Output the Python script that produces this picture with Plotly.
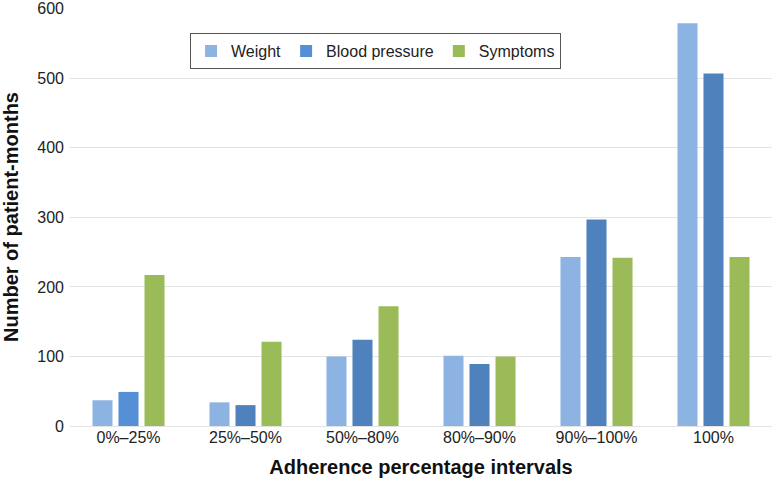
import plotly.graph_objects as go

categories = ["0%\u201325%", "25%\u201350%", "50%\u201380%", "80%\u201390%", "90%\u2013100%", "100%"]
weight = [37, 34, 100, 101, 243, 579]
blood_pressure = [49, 30, 124, 89, 297, 507]
symptoms = [217, 121, 172, 100, 242, 243]
y_ticks = [0, 100, 200, 300, 400, 500, 600]

bp_colors = ["#5590d6"] + ["#4f81bd"] * 5

fig = go.Figure()
fig.add_trace(go.Bar(name="Weight", x=categories, y=weight, marker=dict(color="#8db3e2", line=dict(width=0))))
fig.add_trace(go.Bar(name="Blood pressure", x=categories, y=blood_pressure, marker=dict(color=bp_colors, line=dict(width=0))))
fig.add_trace(go.Bar(name="Symptoms", x=categories, y=symptoms, marker=dict(color="#9bbb59", line=dict(width=0))))

font_family = "Liberation Sans, Arial, sans-serif"
fig.update_layout(
    width=773, height=480,
    margin=dict(l=70, r=1, t=8, b=54),
    paper_bgcolor="white", plot_bgcolor="white",
    barmode="group", bargap=0.333, bargroupgap=0.23,
    font=dict(family=font_family, color="#222222", size=16),
    showlegend=True,
    legend=dict(
        orientation="h", x=0.171, y=0.94, xanchor="left", yanchor="top",
        bordercolor="#555555", borderwidth=1, bgcolor="white",
        font=dict(size=16, color="#222222"),
        tracegroupgap=0,
    ),
    xaxis=dict(
        automargin=False,
        showgrid=False, showline=False, ticks="", tickfont=dict(size=16),
        title=dict(text="<b>Adherence percentage intervals</b>", font=dict(size=20, color="#111111"), standoff=14),
    ),
    yaxis=dict(
        automargin=False, ticklabeloverflow="allow",
        range=[0, 601], tickvals=y_ticks, showgrid=True, gridcolor="#e3e3e3", gridwidth=1,
        zeroline=True, zerolinecolor="#e3e3e3", zerolinewidth=1,
        showline=False, ticks="", tickfont=dict(size=16), ticklabelstandoff=5,
        title=dict(text="<b>Number of patient-months</b>", font=dict(size=20, color="#111111"), standoff=14),
    ),
)

fig.write_html(
    "out.html",
    config={"displayModeBar": False},
    post_script="document.body.style.margin='0';document.body.style.overflow='hidden';",
)
